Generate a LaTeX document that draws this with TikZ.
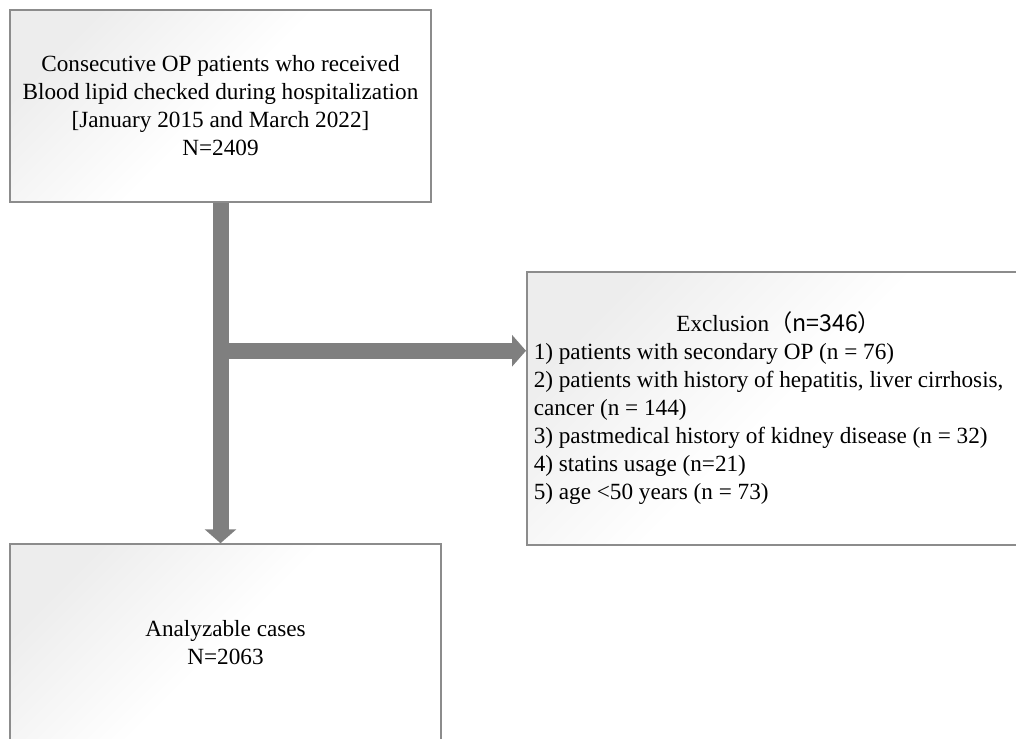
\documentclass[tikz,border=0pt]{standalone}
\usepackage{fontspec}
\setmainfont{Liberation Serif}
\newfontfamily\cjk{Noto Sans CJK SC}
\usetikzlibrary{arrows.meta, positioning, calc}
\definecolor{cgrey}{HTML}{7F7F7F}
\definecolor{cframe}{HTML}{8C8C8C}
\tikzset{
  every picture/.style={font=\fontsize{11.6}{14}\selectfont},
  box/.style={draw=cframe, line width=0.75pt, top color=black!7, bottom color=white, middle color=white, shading angle=45, align=flush center, inner sep=0pt},
  bigarrow/.style={-{Triangle[width=15.5pt, length=7pt]}, draw=cgrey, line width=8pt},
}
\begin{document}
\begin{tikzpicture}[x=0.5pt, y=-0.5pt]
  \useasboundingbox (0,0) rectangle (1016,738);
  \clip (0,0) rectangle (1016,738);
  \node[box, minimum width=210.5pt, minimum height=96pt] (start) at (220.5,106) {Consecutive OP patients who received\\Blood lipid checked during hospitalization\\{}[January 2015 and March 2022]\\N=2409};
  \node[box, anchor=north west, minimum width=252pt, minimum height=136.5pt, text width=245pt, inner xsep=3.5pt, align=flush left] (excl) at (526,271) {\hfill Exclusion{\cjk （n=346）}\hfill\null\\
    1) patients with secondary OP (n = 76)\\
    2) patients with history of hepatitis, liver cirrhosis,\\
    cancer (n = 144)\\
    3) pastmedical history of kidney disease (n = 32)\\
    4) statins usage (n=21)\\
    5) age <50 years (n = 73)};
  \node[box, minimum width=215.5pt, minimum height=99pt] (final) at (225.5,643) {Analyzable cases\\N=2063};
  \draw[bigarrow] (start.south) -- (start.south |- final.north);
  \coordinate (branch) at ($(start.south)+(0,148)$);
  \draw[bigarrow] (branch) -- (branch -| excl.west);
\end{tikzpicture}
\end{document}
